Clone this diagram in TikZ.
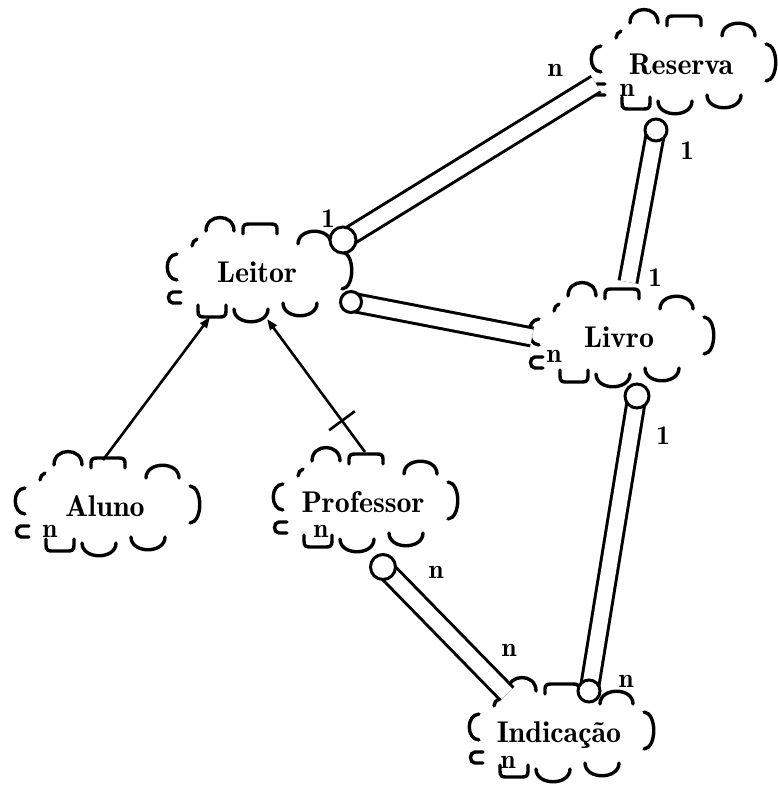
\documentclass[tikz,border=0pt]{standalone}
\usepackage{fontspec}
\setmainfont{lmromandemi10-regular.otf}
\usetikzlibrary{arrows.meta,calc}
\begin{document}
\begin{tikzpicture}[x=1pt,y=-1pt,
  cloudstroke/.style={line width=3.4pt, line cap=round},
  classname/.style={inner sep=0pt, text height=20.5pt, text depth=0pt,
    font=\fontsize{30}{36}\selectfont},
  lab/.style={inner sep=0pt, anchor=base, font=\fontsize{27}{32}\selectfont},
  band/.style={line width=3pt, double=white, double distance=15pt},
  hole/.style={line width=3pt, fill=white},
  isa/.style={line width=2.6pt, -{Triangle[length=11pt,width=8pt]}},
  pics/cloudicon/.style={code={
    \draw[cloudstroke]
      (-51,-41) .. controls (-51,-59) and (-23,-59) .. (-23,-41)
      (-14,-38) -- (-14,-43) .. controls (-14,-47) and (-12,-48) .. (-8,-48)
        -- (14,-48) .. controls (18,-48) and (20,-47) .. (20,-43) -- (20,-38)
      (-65,-26) .. controls (-65,-29) and (-63,-32) .. (-60,-33)
      (41,-28) .. controls (41,-45) and (74,-45) .. (74,-28)
      (-80,-18) .. controls (-93,-17) and (-93,7) .. (-80,8)
      (85,-20) .. controls (98,-19) and (98,16) .. (85,17)
      (-76,20) -- (-84,20) .. controls (-90,20) and (-90,31) .. (-84,31) -- (-76,31)
      (-59,33) -- (-59,39) .. controls (-59,44) and (-57,45) .. (-53,45)
        -- (-37,45) .. controls (-33,45) and (-31,44) .. (-31,39) -- (-31,33)
      (-23,37) .. controls (-23,54) and (11,54) .. (11,37)
      (26,31) .. controls (26,48) and (60,48) .. (60,31);
  }}
]
\fill[white] (0,0) rectangle (777,786);
\useasboundingbox (0,0) rectangle (777,786);

% class icons
\node[classname] (reserva)   at (681,64)  {Reserva};
\node[classname] (leitor)    at (257,272) {Leitor};
\node[classname] (livro)     at (619,337) {Livro};
\node[classname] (aluno)     at (105,506) {Aluno};
\node[classname] (professor) at (363,502) {Professor};
\node[classname] (indicacao) at (559,732) {Indicação};

\foreach \c in {reserva,leitor,livro,aluno,professor,indicacao}
  \pic at (\c) {cloudicon};

% cardinality marks inside the icons
\node[lab] (nres) at (627,97)  {n};
\node[lab] (nliv) at (554,362) {n};
\node[lab] (nalu) at (50,537)  {n};
\node[lab] (npro) at (321,537) {n};
\node[lab] (nind) at (508,768) {n};

% end points of the relations
\coordinate (leitor-res) at ($(leitor)+(86,-32)$);
\coordinate (leitor-liv) at ($(leitor)+(94,30)$);
\coordinate (leitor-in1) at ($(leitor)+(-47,45)$);
\coordinate (leitor-in2) at ($(leitor)+(10,47)$);
\coordinate (reserva-lei) at ($(reserva)+(-85,20)$);
\coordinate (reserva-liv) at ($(reserva)+(-25,66)$);
\coordinate (livro-res) at ($(livro)+(9,-55)$);
\coordinate (livro-lei) at ($(livro)+(-87,0)$);
\coordinate (livro-ind) at ($(livro)+(18,59)$);
\coordinate (indicacao-liv) at ($(indicacao)+(30,-41)$);
\coordinate (indicacao-pro) at ($(indicacao)+(-52,-38)$);
\coordinate (professor-ind) at ($(professor)+(20,65)$);
\coordinate (professor-top) at ($(professor)+(2,-50)$);
\coordinate (aluno-top) at ($(aluno)+(-2,-46)$);

% has relations
\draw[band] (leitor-res) -- (reserva-lei);
\draw[band] (reserva-liv) -- (livro-res);
\draw[band] (leitor-liv) -- (livro-lei);
\draw[band] (livro-ind) -- (indicacao-liv);
\draw[band] (professor-ind) -- (indicacao-pro);

\draw[hole] (leitor-res) circle[radius=13pt];
\draw[hole] (reserva-liv) circle[radius=11pt];
\draw[hole] (leitor-liv) circle[radius=10.5pt];
\draw[hole] (livro-ind) circle[radius=12pt];
\draw[hole] (indicacao-liv) circle[radius=11pt];
\draw[hole] (professor-ind) circle[radius=12.5pt];

% inheritance
\draw[isa] (aluno-top) -- (leitor-in1);
\draw[isa] (professor-top) -- (leitor-in2) coordinate[pos=0.235] (pro-mark);
\draw[line width=2.6pt] ($(pro-mark)!16pt!90:(leitor-in2)$) -- ($(pro-mark)!16pt!-90:(leitor-in2)$);

% cardinalities
\node[lab] at (328,227) {1};
\node[lab] at (555,77)  {n};
\node[lab] at (687,160) {1};
\node[lab] at (655,286) {1};
\node[lab] at (663,444) {1};
\node[lab] at (626,687) {n};
\node[lab] at (436,578) {n};
\node[lab] at (509,656) {n};
\end{tikzpicture}
\end{document}
